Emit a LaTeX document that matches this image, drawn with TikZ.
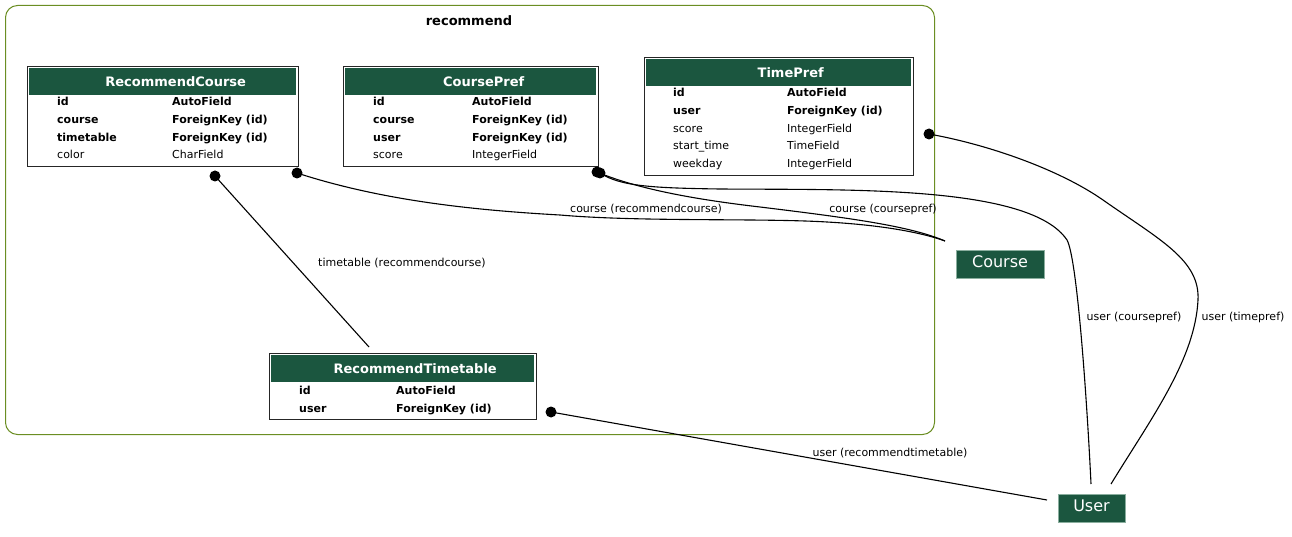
\documentclass[tikz,border=0pt]{standalone}
\usepackage{fontspec}
\setmainfont{DejaVu Sans}
\definecolor{hdrgreen}{HTML}{1B563F}
\definecolor{clustergreen}{HTML}{6B8E23}
\definecolor{extborder}{HTML}{8AAE9E}
\begin{document}
\begin{tikzpicture}[x=1pt,y=-1pt,
  cluster/.style={draw=clustergreen,line width=1pt,rounded corners=12pt,anchor=north west,inner sep=0pt},
  tbl/.style={draw=black!85,line width=1.3pt,anchor=north west,inner sep=0pt},
  hdr/.style={fill=hdrgreen,anchor=north west,inner sep=0pt},
  hdrtxt/.style={inner sep=0pt,text=white,font=\fontsize{13}{15}\selectfont\bfseries},
  fk/.style={anchor=base west,inner sep=0pt,font=\fontsize{11}{13}\selectfont\bfseries},
  fld/.style={anchor=base west,inner sep=0pt,font=\fontsize{11}{13}\selectfont},
  ext/.style={fill=hdrgreen,draw=extborder,line width=0.8pt,inner sep=0pt,text=white,text depth=5pt,font=\fontsize{16}{18}\selectfont},
  elabel/.style={inner sep=0pt,font=\fontsize{11}{13}\selectfont},
  edge/.style={draw=black,line width=1.1pt},
  dotc/.style={fill=black}
]
\useasboundingbox (0,0) rectangle (1292,537);

% cluster
\node[cluster,minimum width=929pt,minimum height=429pt] (cl) at (5,5) {};
\node[inner sep=0pt,font=\fontsize{13}{15}\selectfont\bfseries] (cltitle) at (469,21) {recommend};

% RecommendCourse
\node[tbl,minimum width=271pt,minimum height=100pt] (rc) at (27,66) {};
\node[hdr,minimum width=267pt,minimum height=27pt] (rch) at (29,68) {};
\node[hdrtxt] (rct) at ([xshift=13pt]rch.center) {RecommendCourse};
\node[fk] (rc1a) at (57,106) {id};
\node[fk] (rc1b) at (172,106) {AutoField};
\node[fk] (rc2a) at (57,124) {course};
\node[fk] (rc2b) at (172,124) {ForeignKey (id)};
\node[fk] (rc3a) at (57,141.5) {timetable};
\node[fk] (rc3b) at (172,141.5) {ForeignKey (id)};
\node[fld] (rc4a) at (57,159) {color};
\node[fld] (rc4b) at (172,159) {CharField};

% CoursePref
\node[tbl,minimum width=255pt,minimum height=100pt] (cp) at (343,66) {};
\node[hdr,minimum width=251pt,minimum height=27pt] (cph) at (345,68) {};
\node[hdrtxt] (cpt) at ([xshift=13pt]cph.center) {CoursePref};
\node[fk] (cp1a) at (373,106) {id};
\node[fk] (cp1b) at (472,106) {AutoField};
\node[fk] (cp2a) at (373,124) {course};
\node[fk] (cp2b) at (472,124) {ForeignKey (id)};
\node[fk] (cp3a) at (373,141.5) {user};
\node[fk] (cp3b) at (472,141.5) {ForeignKey (id)};
\node[fld] (cp4a) at (373,159) {score};
\node[fld] (cp4b) at (472,159) {IntegerField};

% TimePref
\node[tbl,minimum width=269pt,minimum height=118pt] (tp) at (644,57) {};
\node[hdr,minimum width=265pt,minimum height=27pt] (tph) at (646,59) {};
\node[hdrtxt] (tpt) at ([xshift=12pt]tph.center) {TimePref};
\node[fk] (tp1a) at (673,97) {id};
\node[fk] (tp1b) at (787,97) {AutoField};
\node[fk] (tp2a) at (673,115) {user};
\node[fk] (tp2b) at (787,115) {ForeignKey (id)};
\node[fld] (tp3a) at (673,132.5) {score};
\node[fld] (tp3b) at (787,132.5) {IntegerField};
\node[fld] (tp4a) at (673,150) {start\_time};
\node[fld] (tp4b) at (787,150) {TimeField};
\node[fld] (tp5a) at (673,167.5) {weekday};
\node[fld] (tp5b) at (787,167.5) {IntegerField};

% RecommendTimetable
\node[tbl,minimum width=267pt,minimum height=66pt] (rt) at (269,353) {};
\node[hdr,minimum width=263pt,minimum height=27pt] (rth) at (271,355) {};
\node[hdrtxt] (rtt) at ([xshift=12.5pt]rth.center) {RecommendTimetable};
\node[fk] (rt1a) at (299,394) {id};
\node[fk] (rt1b) at (396,394) {AutoField};
\node[fk] (rt2a) at (299,412) {user};
\node[fk] (rt2b) at (396,412) {ForeignKey (id)};

% external models
\node[ext,minimum width=88pt,minimum height=28pt] (course) at (1000,264) {Course};
\node[ext,minimum width=67pt,minimum height=28pt] (user) at (1091.5,508) {User};

% connector ends
\coordinate (d1) at (215,176);
\coordinate (d2) at (297,173);
\coordinate (d3) at (597,172);
\coordinate (d4) at (600,173);
\coordinate (d5) at (929,134);
\coordinate (d6) at (551,412);
\coordinate (h1) at (369,347);
\coordinate (hc) at (945,241);
\coordinate (hu1) at (1091,484);
\coordinate (hu2) at (1111,484);
\coordinate (hu3) at (1047,500);

% connectors
\draw[edge] (d1) -- (h1);
\draw[edge] (d2) .. controls (380,200) and (470,210) .. (560,215)
  .. controls (640,222) and (760,218) .. (827,222)
  .. controls (880,225) and (920,232) .. (hc);
\draw[edge] (d3) .. controls (640,190) and (700,200) .. (760,207)
  .. controls (850,218) and (910,226) .. (hc);
\draw[edge] (d4) .. controls (620,186) and (650,188) .. (720,189)
  .. controls (850,190) and (1030,185) .. (1067,240)
  .. controls (1078,260) and (1088,420) .. (hu1);
\draw[edge] (d5) .. controls (990,145) and (1060,170) .. (1103,200)
  .. controls (1160,240) and (1200,260) .. (1198,300)
  .. controls (1195,360) and (1150,420) .. (hu2);
\draw[edge] (d6) -- (hu3);

\foreach \d in {d1,d2,d3,d4,d5,d6} \fill[dotc] (\d) circle (5.5pt);

% labels
\node[elabel] (l1) at (402,263) {timetable (recommendcourse)};
\node[elabel] (l2) at (646,209) {course (recommendcourse)};
\node[elabel] (l3) at (883,209) {course (coursepref)};
\node[elabel] (l4) at (1134,317) {user (coursepref)};
\node[elabel] (l5) at (1243,317) {user (timepref)};
\node[elabel] (l6) at (890,453) {user (recommendtimetable)};
\end{tikzpicture}
\end{document}
